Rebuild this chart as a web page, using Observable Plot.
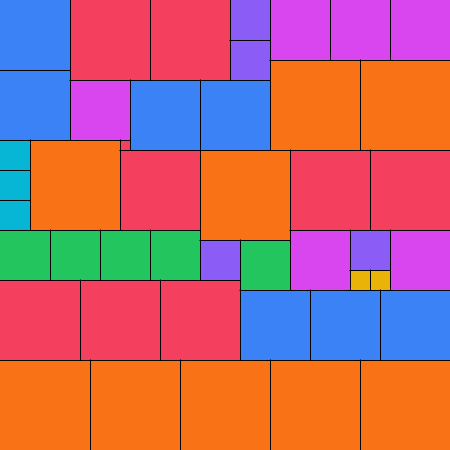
<!DOCTYPE html>
<html>
<head>
<meta charset="utf-8">
<script src="https://cdn.jsdelivr.net/npm/d3@7"></script>
<script src="https://cdn.jsdelivr.net/npm/@observablehq/plot@0.6"></script>
<style>
  html, body { margin: 0; padding: 0; background: #fff; }
  #chart svg { display: block; }
</style>
</head>
<body>
<div id="chart"></div>
<script>
// Square sides (in grid units), in packing order
const sizes = [7, 8, 8, 4, 6, 6, 6, 4, 9, 9, 7, 6, 7, 7, 3, 9, 1, 8, 9, 8, 8, 3, 3,
               5, 5, 5, 5, 6, 4, 6, 4, 5, 2, 2, 8, 8, 8, 7, 7, 7, 9, 9, 9, 9, 9];
// Category of each square
const kinds = ["blue", "rose", "rose", "violet", "fuchsia", "fuchsia", "fuchsia", "violet",
               "orange", "orange", "blue", "fuchsia", "blue", "blue", "cyan", "orange", "rose",
               "rose", "orange", "rose", "rose", "cyan", "cyan",
               "green", "green", "green", "green", "fuchsia", "violet", "fuchsia", "violet",
               "green", "yellow", "yellow", "rose", "rose", "rose", "blue", "blue", "blue",
               "orange", "orange", "orange", "orange", "orange"];
const categories = ["blue", "rose", "violet", "fuchsia", "orange", "cyan", "green", "yellow"];
const palette = ["#3b82f6", "#f43f5e", "#8b5cf6", "#d946ef", "#f97316", "#06b6d4", "#22c55e", "#eab308"];
const gridSize = 45;

// Skyline packing: each square goes to the lowest available spot (leftmost on ties)
const heights = new Array(gridSize).fill(0);
const data = sizes.map((s, i) => {
  let bestX = 0, bestY = Infinity;
  for (let x = 0; x + s <= gridSize; x++) {
    const y = d3.max(heights.slice(x, x + s));
    if (y < bestY) { bestY = y; bestX = x; }
  }
  for (let k = bestX; k < bestX + s; k++) heights[k] = bestY + s;
  return {kind: kinds[i], x1: bestX, x2: bestX + s, y1: bestY, y2: bestY + s};
});

const chart = Plot.plot({
  width: 450,
  height: 450,
  margin: 0,
  x: {domain: [0, gridSize], range: [0, 450], axis: null},
  y: {domain: [0, gridSize], range: [0, 450], axis: null},
  color: {domain: categories, range: palette},
  marks: [
    Plot.rect(data, {x1: "x1", x2: "x2", y1: "y1", y2: "y2", fill: "kind"}),
    Plot.ruleX(data, {x: "x2", y1: "y1", y2: "y2", stroke: "black", strokeWidth: 1, strokeLinecap: "square"}),
    Plot.ruleY(data, {y: "y2", x1: "x1", x2: "x2", stroke: "black", strokeWidth: 1, strokeLinecap: "square"})
  ]
});
document.getElementById("chart").appendChild(chart);
</script>
</body>
</html>
